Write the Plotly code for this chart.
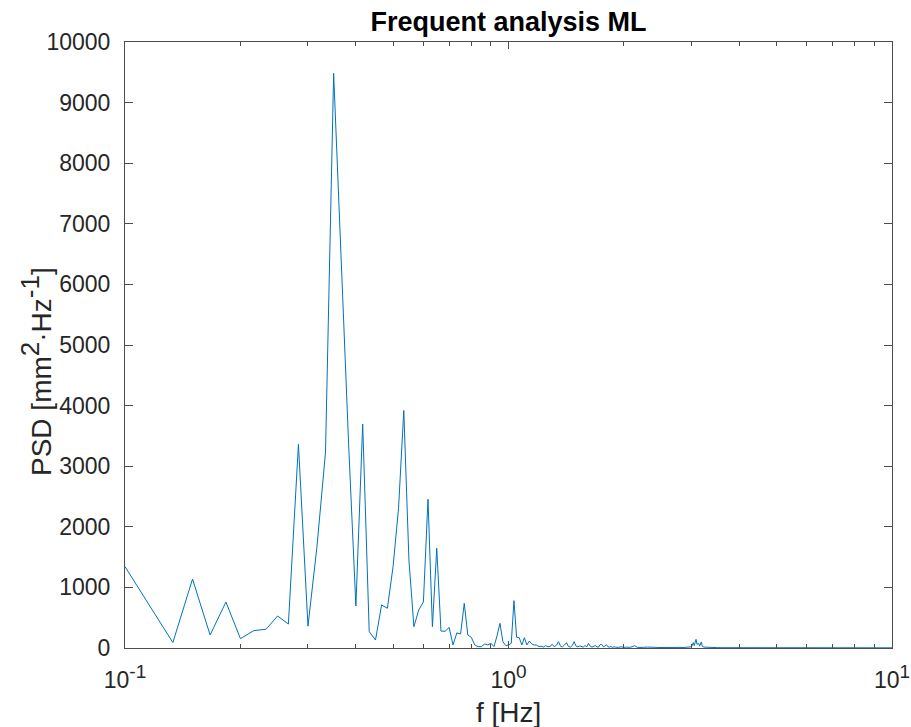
import plotly.graph_objects as go

# Frequency bins [Hz] and PSD values [mm^2/Hz]
freq_main = [
    0.1000, 0.1167, 0.1333, 0.1500, 0.1667, 0.1833, 0.2000, 0.2167, 0.2333, 0.2500,
    0.2667, 0.2833, 0.3000, 0.3167, 0.3333, 0.3500, 0.3667, 0.3833, 0.4000, 0.4167,
    0.4333, 0.4500, 0.4667, 0.4833, 0.5000, 0.5167, 0.5333, 0.5500, 0.5667, 0.5833,
    0.6000, 0.6167, 0.6333, 0.6500, 0.6667, 0.6833, 0.7000, 0.7167, 0.7333, 0.7500,
    0.7667, 0.7833, 0.8000, 0.8167, 0.8333, 0.8500, 0.8667, 0.8833, 0.9000, 0.9167,
    0.9333, 0.9500, 0.9667, 0.9833, 1.0000, 1.0167, 1.0333, 1.0500, 1.0667, 1.0833,
    1.1000, 1.1167, 1.1333, 1.1500, 1.1667, 1.1833, 1.2000,
]
psd_main = [
    1342, 660, 90, 1138, 214, 759, 154, 286, 310, 528,
    396, 3361, 360, 1680, 3230, 9483, 6250, 3300, 693, 3696,
    270, 132, 710, 655, 1342, 2300, 3920, 1452, 352, 627,
    760, 2455, 352, 1645, 280, 275, 341, 50, 250, 231,
    737, 214, 176, 50, 22, 22, 66, 50, 77, 22,
    200, 407, 105, 40, 50, 77, 781, 176, 170, 50,
    170, 50, 115, 66, 50, 50, 22,
]

freq_tail = [
    1.2167, 1.2333, 1.2500, 1.2667, 1.2833, 1.3000, 1.3167, 1.3333, 1.3500, 1.3667,
    1.3833, 1.4000, 1.4167, 1.4333, 1.4500, 1.4667, 1.4833, 1.5000, 1.5167, 1.5333,
    1.5500, 1.5667, 1.5833, 1.6000, 1.6167, 1.6333, 1.6500, 1.6667, 1.6833, 1.7000,
    1.7167, 1.7333, 1.7500, 1.7667, 1.7833, 1.8000, 1.8167, 1.8333, 1.8500, 1.8667,
    1.8833, 1.9000, 1.9333, 1.9667, 2.0000, 2.0333, 2.0667, 2.1000, 2.1333, 2.1667,
    2.2000, 2.2500, 2.3000, 2.3500, 2.4000, 2.4500, 2.5000, 2.5500, 2.6000, 2.6500,
    2.7000, 2.7500, 2.8000, 2.8500, 2.9000, 2.9500, 3.0000, 3.0333, 3.0500, 3.0833,
    3.1000, 3.1333, 3.1500, 3.1833, 3.2000, 3.2333, 3.3000, 3.4000, 3.5000, 3.6000,
    3.8000, 4.0000, 4.2000, 4.5000, 4.8000, 5.0000, 5.5000, 6.0000, 6.5000, 7.0000,
    7.5000, 8.0000, 8.5000, 9.0000, 9.5000, 10.000,
]
psd_tail = [
    30, 15, 40, 20, 25, 60, 20, 45, 105, 30,
    20, 50, 88, 25, 15, 40, 105, 30, 20, 35,
    25, 15, 40, 20, 77, 30, 15, 25, 40, 20,
    15, 55, 60, 20, 30, 55, 20, 15, 25, 10,
    20, 15, 10, 20, 10, 15, 10, 20, 40, 10,
    15, 10, 15, 8, 12, 8, 10, 6, 10, 8,
    12, 8, 10, 8, 15, 10, 20, 88, 40, 143,
    60, 77, 30, 100, 30, 15, 10, 8, 6, 5,
    5, 4, 5, 4, 4, 3, 4, 3, 3, 3,
    3, 3, 3, 3, 3, 3,
]

sup = "<sup><span style='font-size:19px'>{}</span></sup>"
x_tickvals = [0.1, 1, 10]
x_ticktext = ["10" + sup.format("-1"), "10" + sup.format("0"), "10" + sup.format("1")]
x_minorvals = [0.2, 0.3, 0.4, 0.5, 0.6, 0.7, 0.8, 0.9, 2, 3, 4, 5, 6, 7, 8, 9]
y_tickvals = [0, 1000, 2000, 3000, 4000, 5000, 6000, 7000, 8000, 9000, 10000]
y_ticktext = ["0", "1000", "2000", "3000", "4000", "5000", "6000", "7000", "8000", "9000", "10000"]

title_text = "<b>Frequent analysis ML</b>"
xlabel_text = "f [Hz]"
lsup = "<sup><span style='font-size:26px'>{}</span></sup>"
ylabel_text = "PSD [mm" + lsup.format("2") + "·Hz" + lsup.format("-1") + "]"

freq = freq_main + freq_tail
psd = psd_main + psd_tail

fig = go.Figure()
fig.add_trace(go.Scatter(
    x=freq, y=psd, mode="lines",
    line=dict(color="#0072BD", width=1),
    hoverinfo="skip", showlegend=False,
))

font_family = "Liberation Sans, Arial, sans-serif"
axis_color = "#4d4d4d"
text_color = "#262626"

fig.update_layout(
    width=911, height=727,
    margin=dict(l=125, r=19, t=42, b=79),
    paper_bgcolor="white", plot_bgcolor="white",
    font=dict(family=font_family, size=23, color=text_color),
    title=dict(text=title_text, x=(125 + 892) / 2 / 911, xanchor="center",
               y=1 - 22 / 727, yanchor="middle", font=dict(size=27, color="black")),
)

fig.update_xaxes(
    type="log", range=[-1, 1], automargin=False,
    tickvals=x_tickvals, ticktext=x_ticktext,
    ticks="inside", ticklen=7, tickcolor=axis_color, tickwidth=1,
    minor=dict(tickvals=x_minorvals, ticks="inside", ticklen=4, tickcolor=axis_color, tickwidth=1),
    showline=True, linecolor=axis_color, linewidth=1, mirror="ticks",
    showgrid=False, zeroline=False,
    ticklabelstandoff=11,
    tickfont=dict(size=23, color=text_color),
)
fig.update_yaxes(
    range=[0, 10000], tickvals=y_tickvals, ticktext=y_ticktext, automargin=False,
    ticks="inside", ticklen=8, tickcolor=axis_color, tickwidth=1,
    showline=True, linecolor=axis_color, linewidth=1, mirror="ticks",
    showgrid=False, zeroline=False,
    ticklabelstandoff=9,
    tickfont=dict(size=23, color=text_color),
)

fig.add_annotation(
    text=xlabel_text, xref="paper", yref="paper",
    x=0.5, y=(648 - 712) / 606, xanchor="center", yanchor="middle",
    showarrow=False, font=dict(size=28, color=text_color),
)
fig.add_annotation(
    text=ylabel_text, xref="paper", yref="paper", textangle=-90,
    x=(36 - 125) / 767, y=(648 - 372) / 606, xanchor="center", yanchor="middle",
    showarrow=False, font=dict(size=28, color=text_color),
)

fig.write_html("out.html")
